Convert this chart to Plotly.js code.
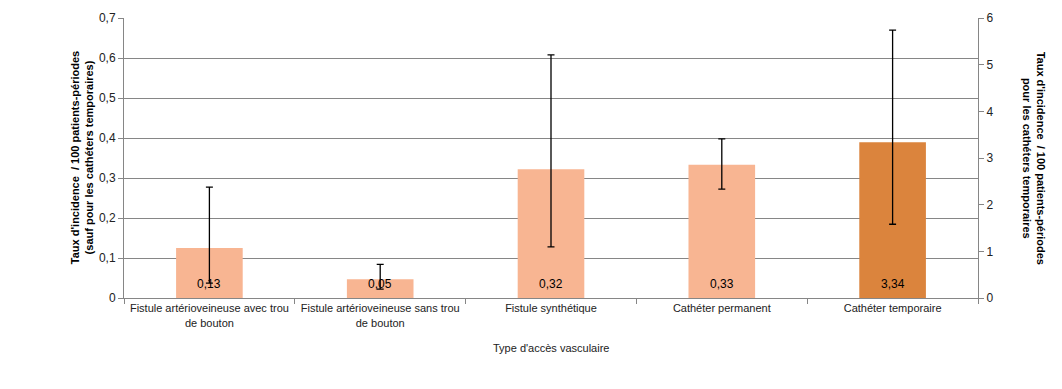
<!DOCTYPE html>
<html>
<head>
<meta charset="utf-8">
<script src="https://cdn.plot.ly/plotly-3.0.1.min.js"></script>
<style>html,body{margin:0;padding:0;background:#fff;}#chart{width:1062px;height:389px;}</style>
</head>
<body>
<div id="chart"></div>
<script>
// Categories (x axis)
const categories = [
  "Fistule artérioveineuse avec trou<br>de bouton",
  "Fistule artérioveineuse sans trou<br>de bouton",
  "Fistule synthétique",
  "Cathéter permanent",
  "Cathéter temporaire"
];
// Left-axis series (first four categories)
const leftValues = [0.125, 0.047, 0.322, 0.333, null];
const leftUpper  = [0.277, 0.084, 0.608, 0.398, null];
const leftLower  = [0.037, 0.022, 0.128, 0.272, null];
// Right-axis series (temporary catheter)
const rightValues = [null, null, null, null, 3.34];
const rightUpper  = [null, null, null, null, 5.74];
const rightLower  = [null, null, null, null, 1.58];
// Data labels
const barLabels = ["0,13", "0,05", "0,32", "0,33", "3,34"];
// Tick labels
const leftTickVals = [0, 0.1, 0.2, 0.3, 0.4, 0.5, 0.6, 0.7];
const leftTickText = ["0", "0,1", "0,2", "0,3", "0,4", "0,5", "0,6", "0,7"];
const rightTickVals = [0, 1, 2, 3, 4, 5, 6];
const rightTickText = ["0", "1", "2", "3", "4", "5", "6"];

const plus = (v, u) => v.map((x, i) => x == null ? null : u[i] - x);
const minus = (v, l) => v.map((x, i) => x == null ? null : x - l[i]);

const font = "Liberation Sans, Arial, sans-serif";

const traceLeft = {
  type: "bar", x: categories, y: leftValues, yaxis: "y",
  marker: {color: "#F8B592"},
  error_y: {type: "data", symmetric: false, array: plus(leftValues, leftUpper),
            arrayminus: minus(leftValues, leftLower), color: "#000", thickness: 1.3, width: 3.5},
  hoverinfo: "none", showlegend: false
};
const traceRight = {
  type: "bar", x: categories, y: rightValues, yaxis: "y2",
  marker: {color: "#DB843D"},
  error_y: {type: "data", symmetric: false, array: plus(rightValues, rightUpper),
            arrayminus: minus(rightValues, rightLower), color: "#000", thickness: 1.3, width: 3.5},
  hoverinfo: "none", showlegend: false
};

const labelAnnotations = categories.map((c, i) => ({
  text: barLabels[i], x: c, y: 0, xref: "x", yref: "y",
  xanchor: "center", yanchor: "bottom", yshift: 5, showarrow: false,
  font: {family: font, size: 12, color: "#000"}
}));

const layout = {
  width: 1062, height: 389,
  margin: {l: 124, r: 84, t: 18, b: 91},
  paper_bgcolor: "#fff", plot_bgcolor: "#fff",
  barmode: "overlay", bargap: 0.61,
  font: {family: font, size: 11, color: "#222"},
  xaxis: {
    type: "category", showline: true, linecolor: "#868686", linewidth: 1,
    ticks: "outside", tickson: "boundaries", ticklen: 5, tickcolor: "#868686",
    tickfont: {family: font, size: 11, color: "#222"}, showgrid: false
  },
  yaxis: {
    range: [0, 0.7], tickvals: leftTickVals, ticktext: leftTickText,
    showline: true, linecolor: "#868686", linewidth: 1,
    ticks: "outside", ticklen: 5, tickcolor: "#868686",
    showgrid: true, gridcolor: "#868686", gridwidth: 1, zeroline: false,
    tickfont: {family: font, size: 12, color: "#222"}
  },
  yaxis2: {
    range: [0, 6], tickvals: rightTickVals, ticktext: rightTickText,
    overlaying: "y", side: "right",
    showline: true, linecolor: "#868686", linewidth: 1,
    ticks: "outside", ticklen: 5, tickcolor: "#868686",
    showgrid: false, zeroline: false,
    tickfont: {family: font, size: 12, color: "#222"}
  },
  annotations: labelAnnotations.concat([
    {text: "<b>Taux d'incidence  / 100 patients-périodes<br>(sauf pour les cathéters temporaires)</b>",
     xref: "paper", yref: "paper", x: -0.049, y: 0.5, xanchor: "center", yanchor: "middle",
     textangle: -90, showarrow: false, font: {family: font, size: 11, color: "#000"}},
    {text: "<b>Taux d'incidence  / 100 patients-périodes<br>pour les cathéters temporaires</b>",
     xref: "paper", yref: "paper", x: 1.066, y: 0.5, xanchor: "center", yanchor: "middle",
     textangle: 90, showarrow: false, font: {family: font, size: 11, color: "#000"}},
    {text: "Type d'accès vasculaire", xref: "paper", yref: "paper", x: 0.5, y: -0.179,
     xanchor: "center", yanchor: "middle", showarrow: false,
     font: {family: font, size: 11, color: "#222"}}
  ])
};

Plotly.newPlot("chart", [traceLeft, traceRight], layout, {displayModeBar: false, staticPlot: true});
</script>
</body>
</html>
